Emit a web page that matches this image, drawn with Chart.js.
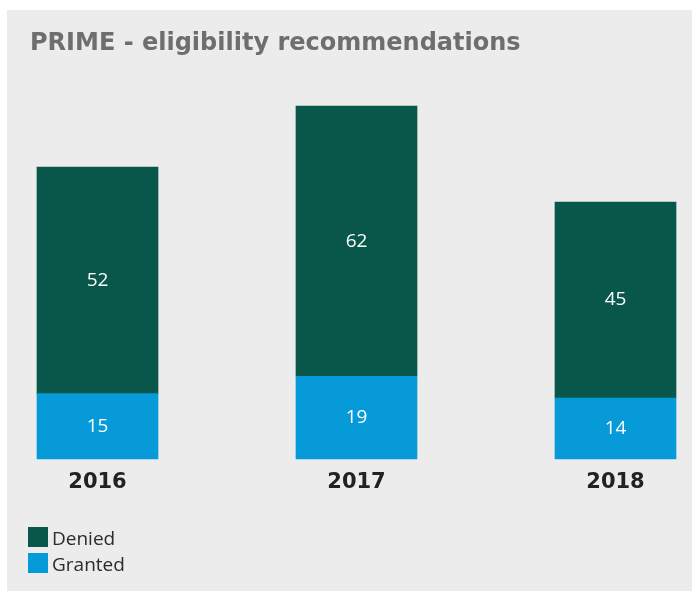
<!DOCTYPE html>
<html>
<head>
<meta charset="utf-8">
<script src="https://cdn.jsdelivr.net/npm/chart.js@4.4.1/dist/chart.umd.min.js"></script>
<style>
  html, body { margin: 0; padding: 0; background: #ffffff; }
  #panel {
    position: absolute; left: 7px; top: 10px;
    width: 685px; height: 581px; background: #ececec;
  }
  #panel canvas { position: absolute; left: 0; top: 0; }
  #legend {
    position: absolute; left: 21px; top: 514px;
    font-family: "Open Sans", sans-serif; font-size: 19px; color: #2b2b2b;
  }
  .item { display: flex; align-items: center; height: 26px; }
  .swatch { width: 20px; height: 20px; margin-right: 4px; }
  .label { line-height: 20px; padding-top: 2px; }
</style>
</head>
<body>
<div id="panel">
  <canvas id="chart" width="685" height="581"></canvas>
  <div id="legend"></div>
</div>
<script>
// values
const years = ['2016', '2017', '2018'];
const granted = [15, 19, 14];
const denied = [52, 62, 45];

const colours = { Denied: '#08574a', Granted: '#069bd8' };

// white value labels in the middle of each segment
const segmentLabels = {
  id: 'segmentLabels',
  afterDatasetsDraw(chart) {
    const ctx = chart.ctx;
    ctx.save();
    ctx.fillStyle = '#ffffff';
    ctx.font = '19px "Open Sans", sans-serif';
    ctx.textAlign = 'center';
    ctx.textBaseline = 'middle';
    chart.data.datasets.forEach((ds, i) => {
      chart.getDatasetMeta(i).data.forEach((bar, j) => {
        ctx.fillText(String(ds.data[j]), bar.x, (bar.y + bar.base) / 2);
      });
    });
    ctx.restore();
  }
};

const chart = new Chart(document.getElementById('chart'), {
  type: 'bar',
  data: {
    labels: years,
    datasets: [
      { label: 'Granted', data: granted, backgroundColor: colours.Granted },
      { label: 'Denied', data: denied, backgroundColor: colours.Denied },
    ].map(d => ({ ...d, barThickness: 121, clip: false, borderWidth: 0 })),
  },
  options: {
    responsive: false,
    animation: false,
    layout: { padding: { left: 23, right: 76.5, top: 0, bottom: 92.8 } },
    plugins: {
      legend: { display: false },
      tooltip: { enabled: false },
      title: {
        display: true,
        text: 'PRIME - eligibility recommendations',
        align: 'start',
        color: '#6e6e6e',
        font: { family: '"DejaVu Sans", Verdana, sans-serif', size: 24, weight: 'bold' },
        padding: { top: 19.5, bottom: 11.7 },
      },
    },
    scales: {
      x: {
        stacked: true,
        offset: false,
        grid: { display: false },
        border: { display: false },
        ticks: {
          color: '#222222',
          padding: 3,
          font: { family: '"DejaVu Sans", Verdana, sans-serif', size: 21, weight: 'bold' },
        },
      },
      y: {
        stacked: true,
        min: 0,
        max: 89.3,
        grid: { display: false },
        border: { display: false },
        ticks: { display: false },
        afterFit(scale) { scale.width = 67.5; },
      },
    },
  },
  plugins: [segmentLabels],
});

// legend: Denied above Granted, as in the reference
const legend = document.getElementById('legend');
chart.data.datasets.slice().reverse().forEach(ds => {
  const row = document.createElement('div');
  row.className = 'item';
  row.innerHTML = '<span class="swatch" style="background:' + ds.backgroundColor +
    '"></span><span class="label">' + ds.label + '</span>';
  legend.appendChild(row);
});
</script>
</body>
</html>
